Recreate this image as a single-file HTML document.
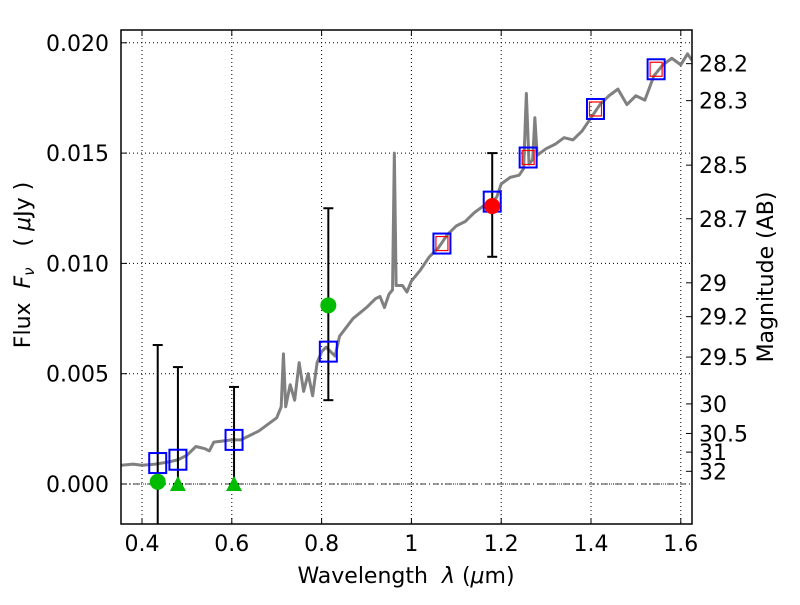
<!DOCTYPE html>
<html><head><meta charset="utf-8"><style>
body{margin:0;background:#fff}
svg{font-family:"DejaVu Sans","Liberation Sans",sans-serif}
</style></head><body>
<svg id="c" width="800" height="600" xmlns="http://www.w3.org/2000/svg"></svg>
<script>
const specWl=[0.353,0.38,0.40,0.43,0.46,0.48,0.50,0.52,0.54,0.55,0.56,0.60,0.62,0.64,0.66,0.68,0.70,0.71,0.715,0.72,0.73,0.74,0.75,0.76,0.77,0.78,0.79,0.80,0.81,0.83,0.84,0.87,0.90,0.92,0.93,0.94,0.95,0.958,0.962,0.966,0.98,0.99,1.0,1.02,1.04,1.06,1.08,1.10,1.12,1.14,1.16,1.18,1.19,1.20,1.22,1.24,1.25,1.256,1.262,1.27,1.275,1.28,1.30,1.32,1.34,1.36,1.38,1.40,1.42,1.44,1.46,1.48,1.50,1.52,1.54,1.56,1.58,1.60,1.615,1.625];
const specFlux=[0.00085,0.0009,0.00085,0.0009,0.0010,0.0011,0.0013,0.0017,0.0016,0.0015,0.0019,0.0020,0.0020,0.0022,0.0024,0.0027,0.0030,0.0035,0.0059,0.0035,0.0045,0.0038,0.0055,0.0042,0.0050,0.0040,0.0055,0.0060,0.0062,0.0058,0.0067,0.0075,0.0080,0.0084,0.0085,0.0080,0.0086,0.0088,0.0150,0.0090,0.0090,0.0087,0.0092,0.0097,0.0103,0.0107,0.0113,0.0117,0.0119,0.0123,0.0126,0.0128,0.0130,0.0136,0.0139,0.0140,0.0143,0.0177,0.0145,0.0147,0.0166,0.0149,0.0152,0.0154,0.0157,0.0156,0.0160,0.0166,0.0172,0.0176,0.0179,0.0172,0.0176,0.0174,0.0185,0.0190,0.0193,0.0190,0.0195,0.0192];
const synWl=[0.435,0.48,0.605,0.815,1.068,1.18,1.26,1.41,1.545];
const synFlux=[0.00095,0.0011,0.0020,0.0060,0.0109,0.0128,0.0148,0.0170,0.0188];
const redWl=[1.068,1.26,1.41,1.545];
const redFlux=[0.0109,0.0148,0.0170,0.0188];
const obsWl=[0.435,0.815];
const obsFlux=[0.0001,0.0081];
const obsLo=[-0.003,0.0038];
const obsHi=[0.0063,0.0125];
const limWl=[0.48,0.605];
const limHi=[0.0053,0.0044];
const hstWl=[1.18];
const hstFlux=[0.0126];
const hstLo=[0.0103];
const hstHi=[0.0150];
const xTicks=[0.4,0.6,0.8,1.0,1.2,1.4,1.6];
const xTickLabels=["0.4","0.6","0.8","1","1.2","1.4","1.6"];
const yTicks=[0,0.005,0.010,0.015,0.020];
const yTickLabels=["0.000","0.005","0.010","0.015","0.020"];
const magTicks=[28.2,28.3,28.5,28.7,29,29.2,29.5,30,30.5,31,32];

const L=121,R=692,T=30,B=524;
const X=v=>142+(v-0.4)*449;
const Y=f=>484-f*22060;
const svg=document.getElementById('c');
const NS='http://www.w3.org/2000/svg';
function mk(tag,attrs,parent){const e=document.createElementNS(NS,tag);for(const k in attrs)e.setAttribute(k,attrs[k]);(parent||svg).appendChild(e);return e;}

const grid=mk('g',{});


xTicks.forEach(v=>{mk('line',{x1:X(v),x2:X(v),y1:T,y2:B,stroke:'#000','stroke-width':1,'stroke-dasharray':'1,3'},grid);});
yTicks.forEach(v=>{mk('line',{x1:L,x2:R,y1:Y(v),y2:Y(v),stroke:'#000','stroke-width':1,'stroke-dasharray':'1,3'},grid);});
mk('line',{x1:L,x2:R,y1:Y(0),y2:Y(0),stroke:'#000','stroke-width':0.8,'stroke-dasharray':'6,3,1,3'},grid);

const clip=mk('clipPath',{id:'pa'});mk('rect',{x:L,y:T,width:R-L,height:B-T},clip);
const plot=mk('g',{'clip-path':'url(#pa)'});



const sp=mk('polyline',{points:specWl.map((w,i)=>X(w)+','+Y(specFlux[i])).join(' '),fill:'none',stroke:'#808080','stroke-width':3,'stroke-linejoin':'round'},plot);



function ebar(x,lo,hi,name){const g=mk('g',{},plot);
mk('line',{x1:x,x2:x,y1:Y(lo),y2:Y(hi),stroke:'#000','stroke-width':2},g);
mk('line',{x1:x-5,x2:x+5,y1:Y(hi),y2:Y(hi),stroke:'#000','stroke-width':2},g);
mk('line',{x1:x-5,x2:x+5,y1:Y(lo),y2:Y(lo),stroke:'#000','stroke-width':2},g);}
obsWl.forEach((w,i)=>ebar(X(w),obsLo[i],obsHi[i],'obs-errorbar'));
limWl.forEach((w,i)=>ebar(X(w),0,limHi[i],'limit-errorbar'));
hstWl.forEach((w,i)=>ebar(X(w),hstLo[i],hstHi[i],'hst-errorbar'));

synWl.forEach((w,i)=>{const r=mk('rect',{x:X(w)-8.5,y:Y(synFlux[i])-10,width:17,height:20,fill:'none',stroke:'#0000ff','stroke-width':2},plot);

});
redWl.forEach((w,i)=>{const r=mk('rect',{x:X(w)-6,y:Y(redFlux[i])-7,width:12,height:14,fill:'none',stroke:'#ff0000','stroke-width':1.2},plot);

});
obsWl.forEach((w,i)=>{const c=mk('circle',{cx:X(w),cy:Y(obsFlux[i]),r:8,fill:'#00bb00'},plot);

});
limWl.forEach(w=>{const x=X(w),y=Y(0);const p=mk('polygon',{points:`${x-8},${y+7} ${x+8},${y+7} ${x},${y-8}`,fill:'#00bb00'},plot);

});
hstWl.forEach((w,i)=>{const c=mk('circle',{cx:X(w),cy:Y(hstFlux[i]),r:8,fill:'#ff0000'},plot);

});

const frame=mk('rect',{x:L,y:T,width:R-L,height:B-T,fill:'none',stroke:'#000','stroke-width':1.5});



xTicks.forEach((v,i)=>{mk('line',{x1:X(v),x2:X(v),y1:B,y2:B-6,stroke:'#000'});mk('line',{x1:X(v),x2:X(v),y1:T,y2:T+6,stroke:'#000'});
const t=mk('text',{x:X(v),y:B+27,'font-size':22,'text-anchor':'middle'});t.textContent=xTickLabels[i];

});
yTicks.forEach((v,i)=>{mk('line',{x1:L,x2:L+6,y1:Y(v),y2:Y(v),stroke:'#000'});
const t=mk('text',{x:L-12,y:Y(v)+8,'font-size':22,'text-anchor':'end'});t.textContent=yTickLabels[i];

});
magTicks.forEach(m=>{const f=Math.pow(10,-0.4*(m-23.9));const y=Y(f);
mk('line',{x1:R,x2:R-6,y1:y,y2:y,stroke:'#000'});
const t=mk('text',{x:R+7,y:y+8,'font-size':22});t.textContent=String(m);

});

const xl=mk('text',{x:406,y:583,'font-size':22,'text-anchor':'middle'});
xl.innerHTML='Wavelength&#160;&#160;<tspan font-style="italic">λ</tspan>&#160;(<tspan font-style="italic">μ</tspan>m)';


const yl=mk('text',{x:0,y:0,'font-size':22,'text-anchor':'middle',transform:'translate(30,265) rotate(-90)'});
yl.innerHTML='Flux&#160;&#160;<tspan font-style="italic">F</tspan><tspan font-style="italic" font-size="15" dy="4">ν</tspan><tspan dy="-4">&#160;&#160;&#160;(&#160;</tspan><tspan font-style="italic">μ</tspan>Jy&#160;)';


const ml=mk('text',{x:0,y:0,'font-size':22,'text-anchor':'middle',transform:'translate(773,277) rotate(-90)'});
ml.textContent='Magnitude (AB)';


</script>
</body></html>
